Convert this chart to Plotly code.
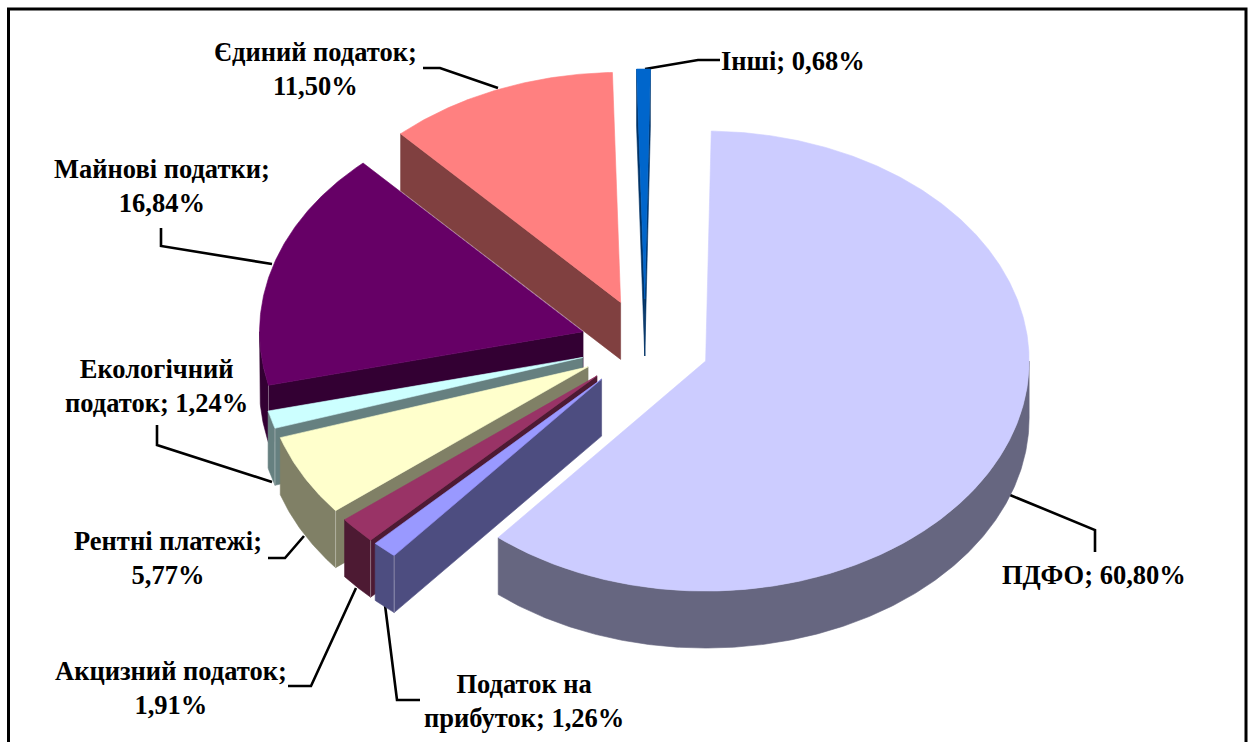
import numpy as np
import plotly.graph_objects as go

# ---- data (clockwise from the top) ----
categories = ["ПДФО", "Податок на прибуток", "Акцизний податок", "Рентні платежі",
              "Екологічний податок", "Майнові податки", "Єдиний податок", "Інші"]
values = [60.80, 1.26, 1.91, 5.77, 1.24, 16.84, 11.50, 0.68]
label_texts = ["ПДФО; 60,80%", "Податок на<br>прибуток; 1,26%", "Акцизний податок;<br>1,91%",
               "Рентні платежі;<br>5,77%", "Екологічний<br>податок; 1,24%",
               "Майнові податки;<br>16,84%", "Єдиний податок;<br>11,50%", "Інші; 0,68%"]

# ---- styles ----
top_colors = ["#CCCCFF", "#9999FF", "#993366", "#FFFFCC", "#CCFFFF", "#660066", "#FF8080", "#0066CC"]
side_colors = ["#666680", "#4D4D80", "#4D1A33", "#808066", "#668080", "#330033", "#804040", "#003366"]

# ---- projection of the tilted pie ----
CX, CY, RX, RY = 645.0, 345.0, 323.5, 230.0
DEPTH, EXPLODE, ROT = 57.0, 0.2, 1.0
W, H = 1255, 742


def project(cx, cy, deg, r=1.0):
    t = np.radians(deg)
    return cx + r * RX * np.sin(t), cy - r * RY * np.cos(t)


fig = go.Figure()


def poly(xs, ys, color):
    fig.add_trace(go.Scatter(x=list(xs), y=list(ys), mode="lines", fill="toself",
                             fillcolor=color, line=dict(color=color, width=0.6),
                             hoverinfo="skip", showlegend=False))


# leader lines (below the slices)
leaders = [
    ([423, 440, 498], [68, 68, 88]),
    ([645, 698, 720], [69, 60, 60]),
    ([161, 161, 272], [228, 246, 264]),
    ([157, 157, 272], [425, 445, 482]),
    ([268, 285, 304], [558, 558, 536]),
    ([288, 311, 356], [686, 686, 588]),
    ([385, 397, 420], [605, 700, 700]),
    ([1010, 1095, 1095], [495, 530, 552]),
]
for lx, ly in leaders:
    fig.add_trace(go.Scatter(x=lx, y=ly, mode="lines", line=dict(color="black", width=2.6),
                             hoverinfo="skip", showlegend=False))

# slice angles
fractions = np.array(values) / sum(values) * 360.0
ends = np.cumsum(fractions) + ROT
starts = ends - fractions

# back slices first; the large one last
draw_order = [7, 6, 5, 4, 3, 2, 1, 0]
for i in draw_order:
    a, b = starts[i], ends[i]
    mid = (a + b) / 2
    ax, ay = project(CX, CY, mid, EXPLODE)
    # radial walls
    if np.sin(np.radians(a)) < 0:
        ox, oy = project(ax, ay, a)
        poly([ax, ox, ox, ax, ax], [ay, oy, oy + DEPTH, ay + DEPTH, ay], side_colors[i])
    if np.sin(np.radians(b)) > 0:
        ox, oy = project(ax, ay, b)
        poly([ax, ox, ox, ax, ax], [ay, oy, oy + DEPTH, ay + DEPTH, ay], side_colors[i])
    # outer rim
    lo, hi = max(a, 90.0), min(b, 270.0)
    if hi > lo:
        th = np.linspace(lo, hi, max(int((hi - lo) * 2), 2))
        rx, ry = project(ax, ay, th)
        poly(np.r_[rx, rx[::-1], rx[0]], np.r_[ry, ry[::-1] + DEPTH, ry[0]], side_colors[i])
        # faint seam where rim and wall meet
        if np.sin(np.radians(a)) < 0 and a > 90 and i != 0:
            fig.add_trace(go.Scatter(x=[rx[0], rx[0]], y=[ry[0], ry[0] + DEPTH], mode="lines",
                                     line=dict(color="rgba(255,255,255,0.45)", width=0.8),
                                     hoverinfo="skip", showlegend=False))
    # top face
    th = np.linspace(a, b, max(int((b - a) * 2), 2))
    tx, ty = project(ax, ay, th)
    poly(np.r_[ax, tx, ax], np.r_[ay, ty, ay], top_colors[i])

# labels
label_pos = [(1094, 575), (524, 701), (171, 688), (168, 558),
             (156, 386), (162, 186), (315, 69), (793, 61)]
for text, (lx, ly) in zip(label_texts, label_pos):
    fig.add_annotation(x=lx, y=ly, xref="x", yref="y", text=text, showarrow=False, align="center",
                       font=dict(family="Liberation Serif", size=26.5, color="black", weight="bold"))

# chart frame (its bottom edge falls outside the picture)
fig.add_trace(go.Scatter(x=[8.5, 8.5, 1246, 1246], y=[760, 9, 9, 760], mode="lines",
                         line=dict(color="black", width=3), hoverinfo="skip", showlegend=False))

fig.update_layout(width=W, height=H, margin=dict(l=0, r=0, t=0, b=0), autosize=False,
                  paper_bgcolor="white", plot_bgcolor="white", showlegend=False,
                  xaxis=dict(range=[0, W], visible=False, fixedrange=True),
                  yaxis=dict(range=[H, 0], visible=False, fixedrange=True))

fig.write_html("out.html", config={"displayModeBar": False},
               post_script="document.body.style.margin='0';document.body.style.overflow='hidden';")
